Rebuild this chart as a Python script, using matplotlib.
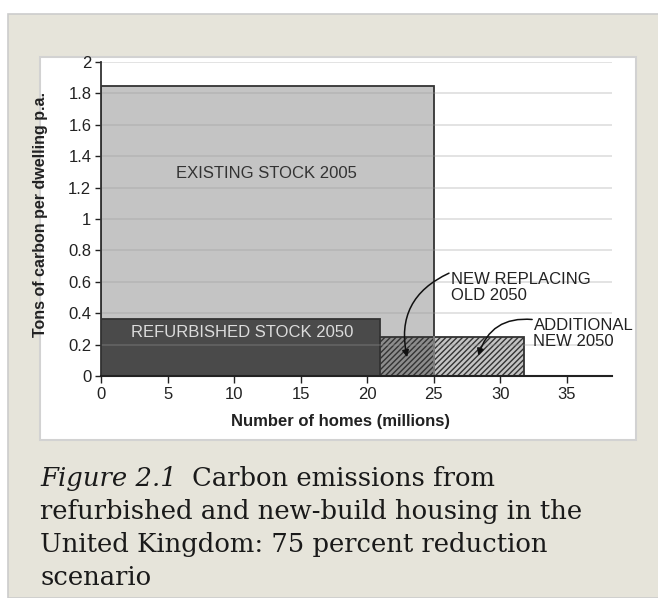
import matplotlib
matplotlib.use("Agg")
import matplotlib.pyplot as plt
from matplotlib.patches import Rectangle

# datos
bar_names = ["EXISTING STOCK 2005", "REFURBISHED STOCK 2050", "NEW REPLACING OLD 2050", "ADDITIONAL NEW 2050"]
bar_left = [0, 0, 21, 25]
bar_width = [25, 21, 4, 6.8]
bar_height = [1.85, 0.36, 0.25, 0.25]

x_ticks = [0, 5, 10, 15, 20, 25, 30, 35]
y_ticks = [0, 0.2, 0.4, 0.6, 0.8, 1, 1.2, 1.4, 1.6, 1.8, 2]
y_tick_labels = ["0", "0.2", "0.4", "0.6", "0.8", "1", "1.2", "1.4", "1.6", "1.8", "2"]

caption_lines = ["refurbished and new-build housing in the",
                 "United Kingdom: 75 percent reduction",
                 "scenario"]

plt.rcParams['font.family'] = ['Liberation Sans', 'DejaVu Sans']
plt.rcParams['hatch.linewidth'] = 1.0
plt.rcParams['hatch.color'] = '#333333'

fig = plt.figure(figsize=(6.58, 5.98), dpi=100)
W, H = 658, 598

def fx(px):
    return px / W

def fy(py):
    return 1 - py / H

# fondo beige y panel blanco
fig.patches.append(Rectangle((fx(8), 0), 1, fy(14), transform=fig.transFigure,
                             facecolor='#e6e4da', edgecolor='#cccccc', lw=1.2, zorder=-2))
fig.patches.append(Rectangle((fx(40), fy(440)), fx(596), 383 / H, transform=fig.transFigure,
                             facecolor='white', edgecolor='#d2d2d2', lw=1.5, zorder=-1))

ax = fig.add_axes([fx(101), fy(376), fx(612) - fx(101), fy(62) - fy(376)])
ax.set_facecolor('none')
ax.set_xlim(0, 38.4)
ax.set_ylim(0, 2)

# barras
face = ['#c4c4c4', '#4a4a4a', '#8c8c8c', '#c4c4c4']
hatch = [None, None, '//////', '//////']
for i in range(len(bar_names)):
    ax.bar(bar_left[i], bar_height[i], width=bar_width[i], align='edge',
           color=face[i], edgecolor='#333333', linewidth=1.3, hatch=hatch[i], zorder=2 + i * 0.1)
# borde derecho del stock existente visible a traves del rayado
ax.plot([bar_left[0] + bar_width[0]] * 2, [0, bar_height[2]], color='#888888', lw=1.2, zorder=3)

# lineas de rejilla
for y in y_ticks[1:]:
    ax.axhline(y, color='#999999', lw=1.3, alpha=0.3, zorder=4)

ax.set_xticks(x_ticks)
ax.set_yticks(y_ticks)
ax.set_yticklabels(y_tick_labels)
ax.tick_params(axis='both', labelsize=12, colors='#222222', length=4, width=1, direction='out')
ax.tick_params(axis='x', length=5, pad=3)
ax.tick_params(axis='y', pad=3)
for s in ['top', 'right']:
    ax.spines[s].set_visible(False)
ax.spines['left'].set_color('#333333')
ax.spines['bottom'].set_color('#222222')
ax.spines['left'].set_linewidth(1.3)
ax.spines['bottom'].set_linewidth(1.5)
ax.spines['left'].set_zorder(6)
ax.spines['bottom'].set_zorder(6)

ax.set_xlabel("Number of homes (millions)", fontsize=12, fontweight='bold', color='#222222')
ax.xaxis.set_label_coords(0.468, -0.122)
ax.set_ylabel("Tons of carbon per dwelling p.a.", fontsize=11.5, fontweight='bold', color='#222222')
ax.yaxis.set_label_coords(-0.104, 0.513)

ax.text(12.4, 1.29, "EXISTING STOCK 2005", ha='center', va='center', fontsize=12, color='#333333', zorder=7)
ax.text(10.6, 0.28, "REFURBISHED STOCK 2050", ha='center', va='center', fontsize=12, color='#dcdcdc', zorder=7)

# etiquetas con flechas
ax.text(26.3, 0.66, "NEW REPLACING\nOLD 2050", fontsize=12, color='#222222', ha='left', va='top',
        linespacing=1.05, zorder=7)
ax.annotate("", xy=(23.0, 0.12), xytext=(26.15, 0.655),
            arrowprops=dict(arrowstyle='-|>', color='#111111', lw=1.1, connectionstyle='arc3,rad=0.4',
                            shrinkA=0, shrinkB=0, mutation_scale=10), zorder=7, annotation_clip=False)
ax.text(32.5, 0.37, "ADDITIONAL\nNEW 2050", fontsize=12, color='#222222', ha='left', va='top',
        linespacing=1.05, zorder=7)
ax.annotate("", xy=(28.35, 0.13), xytext=(32.4, 0.36),
            arrowprops=dict(arrowstyle='-|>', color='#111111', lw=1.1, connectionstyle='arc3,rad=0.4',
                            shrinkA=0, shrinkB=0, mutation_scale=10), zorder=7, annotation_clip=False)

# pie de figura
cap_size = 18.6
t1 = fig.text(fx(40), fy(486), "Figure 2.1", family='DejaVu Serif', style='italic',
              fontsize=cap_size, color='#1a1a1a', va='baseline')
fig.canvas.draw()
ext = t1.get_window_extent(renderer=fig.canvas.get_renderer())
fig.text(ext.x1 / W + fx(15), fy(486), "Carbon emissions from", family='DejaVu Serif',
         fontsize=cap_size, color='#1a1a1a', va='baseline')
for k, line in enumerate(caption_lines):
    fig.text(fx(40), fy(486 + 33 * (k + 1)), line, family='DejaVu Serif',
             fontsize=cap_size, color='#1a1a1a', va='baseline')

fig.savefig("out.png", dpi=100)
